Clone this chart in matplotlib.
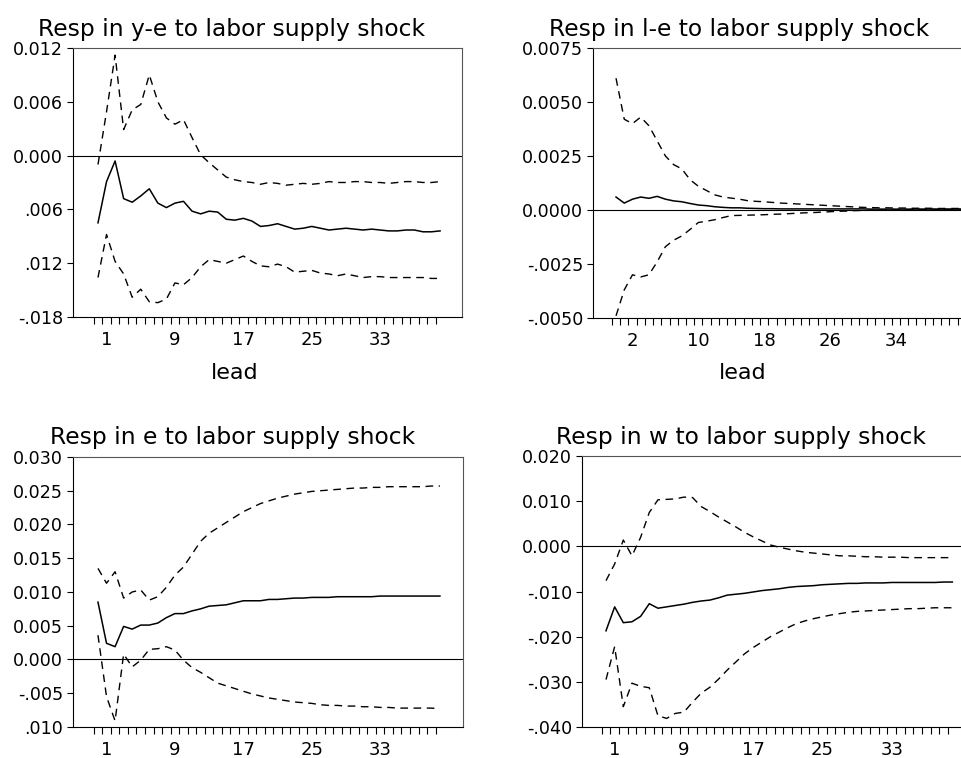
import numpy as np
import matplotlib.pyplot as plt

# impulse responses to a labor supply shock (point estimate + bands), by lead
resp_ye = [-0.0075, -0.0029, -0.0006, -0.0048, -0.0052, -0.0045, -0.0037, -0.0053, -0.0058, -0.0053,
           -0.0051, -0.0062, -0.0065, -0.0062, -0.0063, -0.0071, -0.0072, -0.0070, -0.0073, -0.0079,
           -0.0078, -0.0076, -0.0079, -0.0082, -0.0081, -0.0079, -0.0081, -0.0083, -0.0082, -0.0081,
           -0.0082, -0.0083, -0.0082, -0.0083, -0.0084, -0.0084, -0.0083, -0.0083, -0.0085, -0.0085, -0.0084]
upper_ye = [-0.0010, 0.0049, 0.0112, 0.0029, 0.0051, 0.0057, 0.0090, 0.0060, 0.0042, 0.0035,
            0.0040, 0.0020, 0.0001, -0.0008, -0.0016, -0.0024, -0.0027, -0.0029, -0.0030, -0.0032,
            -0.0030, -0.0031, -0.0033, -0.0032, -0.0031, -0.0032, -0.0031, -0.0029, -0.0030, -0.0030,
            -0.0029, -0.0029, -0.0030, -0.0030, -0.0031, -0.0030, -0.0029, -0.0029, -0.0030, -0.0030, -0.0029]
lower_ye = [-0.0136, -0.0088, -0.0118, -0.0132, -0.0158, -0.0149, -0.0163, -0.0164, -0.0160, -0.0142,
            -0.0144, -0.0136, -0.0124, -0.0116, -0.0118, -0.0120, -0.0116, -0.0112, -0.0118, -0.0123,
            -0.0124, -0.0121, -0.0124, -0.0130, -0.0129, -0.0128, -0.0131, -0.0132, -0.0134, -0.0132,
            -0.0134, -0.0136, -0.0135, -0.0135, -0.0136, -0.0136, -0.0136, -0.0136, -0.0136, -0.0137, -0.0137]

resp_le = [0.0006, 0.00032, 0.0005, 0.0006, 0.00054, 0.00063, 0.0005, 0.00042, 0.00038, 0.0003,
           0.00023, 0.0002, 0.00015, 0.00012, 0.0001, 0.0001, 0.00008, 0.00007, 0.00006, 0.00006,
           0.00005, 0.00005, 0.00005, 0.00005, 0.00005, 0.00005, 0.00005, 0.00005, 0.00005, 0.00005,
           0.00005, 0.00004, 0.00004, 0.00004, 0.00004, 0.00004, 0.00004, 0.00004, 0.00004, 0.00004,
           0.00004, 0.00004, 0.00004]
upper_le = [0.0061, 0.0042, 0.0040, 0.0043, 0.0039, 0.0032, 0.0025, 0.0021, 0.0019, 0.0014,
            0.0011, 0.0009, 0.0007, 0.0006, 0.00055, 0.0005, 0.00043, 0.0004, 0.00038, 0.00035,
            0.00032, 0.0003, 0.00028, 0.00026, 0.00024, 0.00022, 0.0002, 0.00018, 0.00016, 0.00014,
            0.00012, 0.00011, 0.0001, 0.0001, 0.00009, 0.00009, 0.00008, 0.00008, 0.00008, 0.00007,
            0.00007, 0.00007, 0.00007]
lower_le = [-0.0049, -0.0037, -0.0030, -0.0031, -0.0030, -0.0024, -0.0017, -0.0014, -0.0012, -0.0009,
            -0.00058, -0.00052, -0.00045, -0.00035, -0.00026, -0.00025, -0.00024, -0.00023, -0.00022, -0.0002,
            -0.00019, -0.00017, -0.00015, -0.00013, -0.00012, -0.0001, -0.00008, -0.00006, -0.00005, -0.00003,
            -0.00002, -0.00001, 0.0, 0.0, 0.00001, 0.00001, 0.00002, 0.00002, 0.00002, 0.00003,
            0.00003, 0.00003, 0.00003]

resp_e = [0.0085, 0.0024, 0.0019, 0.0049, 0.0045, 0.0051, 0.0051, 0.0054, 0.0062, 0.0068,
          0.0068, 0.0072, 0.0075, 0.0079, 0.0080, 0.0081, 0.0084, 0.0087, 0.0087, 0.0087,
          0.0089, 0.0089, 0.0090, 0.0091, 0.0091, 0.0092, 0.0092, 0.0092, 0.0093, 0.0093,
          0.0093, 0.0093, 0.0093, 0.0094, 0.0094, 0.0094, 0.0094, 0.0094, 0.0094, 0.0094, 0.0094]
upper_e = [0.0135, 0.0113, 0.0130, 0.0091, 0.0100, 0.0103, 0.0088, 0.0093, 0.0107, 0.0125,
           0.0137, 0.0156, 0.0175, 0.0187, 0.0195, 0.0203, 0.0211, 0.0219, 0.0225, 0.0231,
           0.0235, 0.0239, 0.0242, 0.0245, 0.0247, 0.0249, 0.0250, 0.0251, 0.0252, 0.0253,
           0.0254, 0.0254, 0.0255, 0.0255, 0.0256, 0.0256, 0.0256, 0.0256, 0.0256, 0.0257, 0.0257]
lower_e = [0.0036, -0.0055, -0.0091, 0.0008, -0.0011, -0.0001, 0.0015, 0.0016, 0.0019, 0.0014,
           -0.0001, -0.0012, -0.0019, -0.0027, -0.0035, -0.0039, -0.0043, -0.0047, -0.0051, -0.0054,
           -0.0057, -0.0059, -0.0061, -0.0063, -0.0064, -0.0065, -0.0067, -0.0068, -0.0068, -0.0069,
           -0.0069, -0.0070, -0.0070, -0.0071, -0.0071, -0.0072, -0.0072, -0.0072, -0.0072, -0.0072, -0.0073]

resp_w = [-0.0187, -0.0134, -0.0169, -0.0167, -0.0155, -0.0127, -0.0137, -0.0134, -0.0131, -0.0128,
          -0.0124, -0.0121, -0.0119, -0.0114, -0.0108, -0.0106, -0.0104, -0.0101, -0.0098, -0.0096,
          -0.0094, -0.0091, -0.0089, -0.0088, -0.0087, -0.0085, -0.0084, -0.0083, -0.0082, -0.0082,
          -0.0081, -0.0081, -0.0081, -0.0080, -0.0080, -0.0080, -0.0080, -0.0080, -0.0080, -0.0079, -0.0079]
upper_w = [-0.0076, -0.0039, 0.0014, -0.0021, 0.0020, 0.0075, 0.0103, 0.0104, 0.0105, 0.0109,
           0.0108, 0.0088, 0.0077, 0.0065, 0.0054, 0.0043, 0.0031, 0.0021, 0.0012, 0.0003,
           -0.0002, -0.0006, -0.0010, -0.0013, -0.0015, -0.0017, -0.0019, -0.0021, -0.0021, -0.0022,
           -0.0023, -0.0023, -0.0024, -0.0024, -0.0024, -0.0025, -0.0025, -0.0025, -0.0025, -0.0025, -0.0025]
lower_w = [-0.0295, -0.0222, -0.0355, -0.0303, -0.0310, -0.0313, -0.0375, -0.0381, -0.0370, -0.0367,
           -0.0345, -0.0325, -0.0312, -0.0294, -0.0274, -0.0256, -0.0238, -0.0224, -0.0212, -0.0200,
           -0.0190, -0.0180, -0.0171, -0.0165, -0.0160, -0.0156, -0.0152, -0.0149, -0.0146, -0.0144,
           -0.0143, -0.0142, -0.0141, -0.0140, -0.0139, -0.0138, -0.0138, -0.0137, -0.0136, -0.0136, -0.0136]

titles = ["Resp in y-e to labor supply shock", "Resp in l-e to labor supply shock",
          "Resp in e to labor supply shock", "Resp in w to labor supply shock"]
yticks_ye = [0.012, 0.006, 0.0, -0.006, -0.012, -0.018]
ylabels_ye = ["0.012", "0.006", "0.000", ".006", ".012", "-.018"]
yticks_le = [0.0075, 0.005, 0.0025, 0.0, -0.0025, -0.005]
ylabels_le = ["0.0075", "0.0050", "0.0025", "0.0000", "-.0025", "-.0050"]
yticks_e = [0.030, 0.025, 0.020, 0.015, 0.010, 0.005, 0.0, -0.005, -0.010]
ylabels_e = ["0.030", "0.025", "0.020", "0.015", "0.010", "0.005", "0.000", "-.005", ".010"]
yticks_w = [0.020, 0.010, 0.0, -0.010, -0.020, -0.030, -0.040]
ylabels_w = ["0.020", "0.010", "0.000", "-.010", "-.020", "-.030", "-.040"]
xlabels_a = [1, 9, 17, 25, 33]
xlabels_b = [2, 10, 18, 26, 34]


def draw_panel(ax, resp, lo, hi, yticks, ylabels, xlabs, xlim):
    x = np.arange(len(resp))
    ax.plot(x, resp, color='black', lw=1.1)
    ax.plot(x, hi, color='black', lw=1.0, linestyle=(0, (5.5, 4)))
    ax.plot(x, lo, color='black', lw=1.0, linestyle=(0, (5.5, 4)))
    ax.axhline(0, color='black', lw=0.8)
    ax.set_xlim(xlim)
    ax.set_ylim(min(yticks), max(yticks))
    ax.set_yticks(yticks)
    ax.set_yticklabels(ylabels, fontsize=12.6)
    ax.set_xticks(xlabs)
    ax.set_xticklabels([str(v) for v in xlabs], fontsize=13)
    ax.set_xticks(np.arange(-0.5, len(resp) - 1, 1), minor=True)
    ax.tick_params(axis='x', which='major', length=0, pad=10)
    ax.tick_params(axis='x', which='minor', length=5, width=0.8, direction='out')
    ax.tick_params(axis='y', length=4, width=0.8, pad=3)
    for s in ax.spines.values():
        s.set_linewidth(0.8)
    ax.spines['top'].set_color('#555555')
    ax.spines['right'].set_color('#555555')


fig = plt.figure(figsize=(9.62, 7.58), dpi=100)
ax1 = fig.add_axes([0.0759, 0.5818, 0.4044, 0.3549])
ax2 = fig.add_axes([0.6164, 0.5805, 0.3867, 0.3562])
ax3 = fig.add_axes([0.0759, 0.0409, 0.4054, 0.3562])
ax4 = fig.add_axes([0.6050, 0.0409, 0.3980, 0.3575])

draw_panel(ax1, resp_ye, lower_ye, upper_ye, yticks_ye, ylabels_ye, xlabels_a, (-2.92, 42.57))
draw_panel(ax2, resp_le, lower_le, upper_le, yticks_le, ylabels_le, xlabels_b, (-2.8, 42.4))
draw_panel(ax3, resp_e, lower_e, upper_e, yticks_e, ylabels_e, xlabels_a, (-2.92, 42.7))
draw_panel(ax4, resp_w, lower_w, upper_w, yticks_w, ylabels_w, xlabels_a, (-2.77, 41.45))

# titles and axis labels sit centred on each half of the page
fig.text(232 / 962, 1 - 36 / 758, titles[0], fontsize=16.8, ha='center', va='baseline')
fig.text(739 / 962, 1 - 36 / 758, titles[1], fontsize=16.8, ha='center', va='baseline')
fig.text(233 / 962, 1 - 444 / 758, titles[2], fontsize=16.8, ha='center', va='baseline')
fig.text(741 / 962, 1 - 444 / 758, titles[3], fontsize=16.8, ha='center', va='baseline')
fig.text(235 / 962, 1 - 373 / 758, "lead", fontsize=16, ha='center', va='center')
fig.text(743 / 962, 1 - 373 / 758, "lead", fontsize=16, ha='center', va='center')

fig.savefig("out.png", dpi=100)
